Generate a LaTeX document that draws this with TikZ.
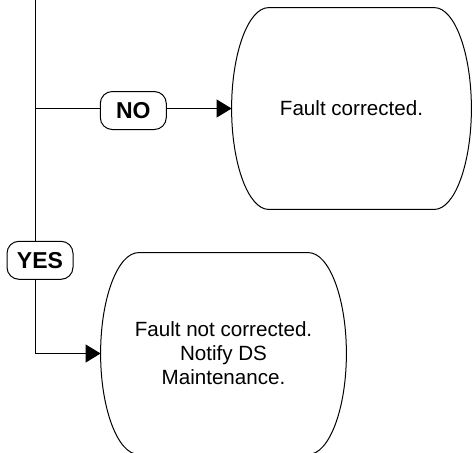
\documentclass[tikz,border=0pt]{standalone}
\usepackage{fontspec}
\setmainfont{Liberation Sans}
\usetikzlibrary{arrows.meta,positioning,calc}

% outline of a terminal box: flat top and bottom, bulging sides
\newcommand{\termoutline}[2]{%
  \draw[line width=0.5pt] ($(#1.north west)+(#2,0)$) -- ($(#1.north east)+(-#2,0)$)
    .. controls +(0.55*#2,0) and +(0,-55) .. (#1.east)
    .. controls +(0,55) and +(0.55*#2,0) .. ($(#1.south east)+(-#2,0)$)
    -- ($(#1.south west)+(#2,0)$)
    .. controls +(-0.55*#2,0) and +(0,55) .. (#1.west)
    .. controls +(0,-55) and +(-0.55*#2,0) .. ($(#1.north west)+(#2,0)$);}

\begin{document}
\begin{tikzpicture}[x=0.5pt, y=-0.5pt,
    term/.style={rectangle, minimum width=#1, minimum height=100.5pt, inner sep=0pt, align=center, font=\fontsize{10.3}{12}\selectfont},
    answer/.style={rectangle, rounded corners=6pt, draw, fill=white, line width=0.5pt, minimum width=33pt, minimum height=19pt, inner sep=0pt, font=\bfseries\fontsize{11.5}{13}\selectfont},
    arrow/.style={-{Triangle[length=7.5pt,width=9pt]}, line width=0.5pt}
  ]
    \clip (0,0) rectangle (472,452);
    \node[term=119.5pt] (fixed) at (351.5,108.5) {Fault corrected.};
    \node[term=122.5pt] (notfixed) at (223.5,353.5) {Fault not corrected.\\Notify DS\\Maintenance.};
    \termoutline{fixed}{37}
    \termoutline{notfixed}{38}
    \coordinate (trunk) at (35,-5);
    \draw[arrow] (trunk |- fixed.west) -- node[answer, yshift=-1pt] {NO} (fixed.west);
    \draw[arrow] (trunk) |- node[answer, pos=0.37, xshift=2.5pt] {YES} (notfixed.west);
  \end{tikzpicture}
\end{document}
